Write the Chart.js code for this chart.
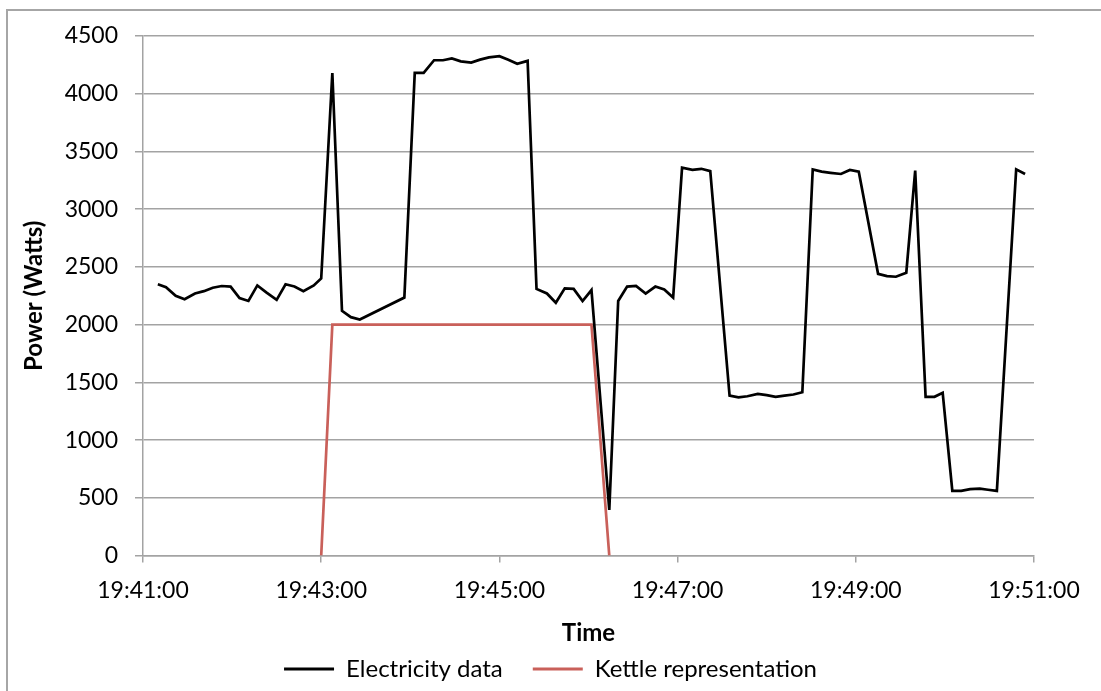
<!DOCTYPE html>
<html>
<head>
<meta charset="utf-8">
<script src="https://cdn.jsdelivr.net/npm/chart.js@4/dist/chart.umd.min.js"></script>
<style>
  html, body { margin: 0; padding: 0; background: #fff; overflow: hidden; }
  #frame {
    position: absolute; left: 6px; top: 9px; width: 1200px; height: 800px;
    border-left: 2px solid #a6a6a6; border-top: 2px solid #a6a6a6;
  }
  #wrap { position: absolute; left: 0; top: 0; width: 1101px; height: 691px; }
</style>
</head>
<body>
<div id="frame"></div>
<div id="wrap"><canvas id="powerChart"></canvas></div>
<script>
// seconds after 19:41:00
const elecTimes = [
  10, 15.5, 22, 28, 35, 41, 47, 53, 59, 65, 71, 77, 83, 90, 96, 102, 108, 115,
  120, 127.5, 134, 140, 146, 176, 183, 189, 196, 202, 208, 214, 221, 227, 233,
  240, 246, 252, 259, 265, 272, 278, 284, 290, 296, 302, 314, 320, 326, 332,
  338.5, 345, 351, 357, 363, 370, 376, 382, 395, 401, 407, 414, 420, 426, 432,
  438, 444, 451, 457, 463, 470, 476, 482, 495, 501, 507, 514, 520, 527, 533,
  538.5, 545, 551, 557, 563.5, 569, 575, 588, 594
]
const elecWatts = [
  2350, 2325, 2250, 2220, 2270, 2290, 2320, 2335, 2330, 2230, 2205, 2340, 2280, 2215, 2350, 2330, 2290, 2340,
  2400, 4180, 2120, 2065, 2045, 2235, 4180, 4180, 4290, 4290, 4305, 4280, 4270, 4295, 4315,
  4325, 4295, 4260, 4285, 2310, 2270, 2190, 2315, 2310, 2205, 2300, 395, 2205, 2330, 2335,
  2270, 2330, 2305, 2235, 3360, 3340, 3350, 3330, 1385, 1370, 1380, 1400, 1390, 1375, 1385,
  1395, 1415, 3345, 3325, 3315, 3305, 3340, 3325, 2440, 2420, 2415, 2450, 3335, 1375, 1375,
  1410, 560, 560, 575, 580, 570, 560, 3345, 3305
]
const kettleTimes = [120, 127.5, 302, 314]
const kettleWatts = [0, 2000, 2000, 0]

const xTickLabels = ['19:41:00', '19:43:00', '19:45:00', '19:47:00', '19:49:00', '19:51:00']
const yTickValues = [0, 500, 1000, 1500, 2000, 2500, 3000, 3500, 4000, 4500]

const toPoints = (xs, ys) => xs.map((x, i) => ({ x: x, y: ys[i] }))

const font = 'Lato, "Liberation Sans", sans-serif'
const gridGrey = '#a3a3a3'

const ctx = document.getElementById('powerChart').getContext('2d')

new Chart(ctx, {
  type: 'line',
  data: {
    datasets: [
      {
        label: 'Electricity data',
        data: toPoints(elecTimes, elecWatts),
        borderColor: '#000000',
        backgroundColor: '#000000',
        borderWidth: 2.7,
        pointRadius: 0,
        tension: 0
      },
      {
        label: 'Kettle representation',
        data: toPoints(kettleTimes, kettleWatts),
        borderColor: '#c9605a',
        backgroundColor: '#c9605a',
        borderWidth: 2.7,
        pointRadius: 0,
        tension: 0
      }
    ]
  },
  options: {
    responsive: true,
    maintainAspectRatio: false,
    animation: false,
    layout: { padding: { left: 0, right: 0, top: 36, bottom: 0 } },
    plugins: {
      tooltip: { enabled: false },
      legend: {
        position: 'bottom',
        labels: {
          color: '#000',
          font: { family: font, size: 24 },
          boxWidth: 50,
          boxHeight: 3,
          padding: 30,
          generateLabels: (chart) => chart.data.datasets.map((ds, i) => ({
            text: ds.label,
            fillStyle: ds.borderColor,
            strokeStyle: ds.borderColor,
            lineWidth: 0,
            datasetIndex: i
          }))
        }
      }
    },
    scales: {
      x: {
        type: 'linear',
        min: 0,
        max: 600,
        afterBuildTicks: (scale) => {
          scale.ticks = xTickLabels.map((_, i) => ({ value: i * 120 }))
        },
        ticks: {
          color: '#000',
          font: { family: font, size: 23 },
          padding: 14,
          maxRotation: 0,
          callback: (value, index) => xTickLabels[index]
        },
        grid: { drawOnChartArea: false, drawTicks: true, tickLength: 7, color: gridGrey, lineWidth: 1.5 },
        border: { color: gridGrey, width: 1.5 },
        title: {
          display: true,
          text: 'Time',
          color: '#000',
          font: { family: font, size: 24, weight: 'bold' },
          // negative bottom pulls the legend up under the title
          padding: { top: 1, bottom: -21 }
        }
      },
      y: {
        min: 0,
        max: 4500,
        afterBuildTicks: (scale) => {
          scale.ticks = yTickValues.map(v => ({ value: v }))
        },
        afterFit: (scale) => { scale.width = 143 },
        ticks: {
          color: '#000',
          font: { family: font, size: 23 },
          padding: 17,
          callback: (value) => String(value)
        },
        grid: { color: gridGrey, lineWidth: 1.5, tickLength: 8 },
        border: { color: gridGrey, width: 1.5 },
        title: {
          display: true,
          text: 'Power (Watts)',
          color: '#000',
          font: { family: font, size: 24, weight: 'bold' },
          padding: { top: 20, bottom: 0 }
        }
      },
      yRight: {
        position: 'right',
        display: true,
        afterFit: (scale) => { scale.width = 67 },
        ticks: { display: false },
        grid: { display: false },
        border: { display: false }
      }
    }
  }
})
</script>
</body>
</html>
